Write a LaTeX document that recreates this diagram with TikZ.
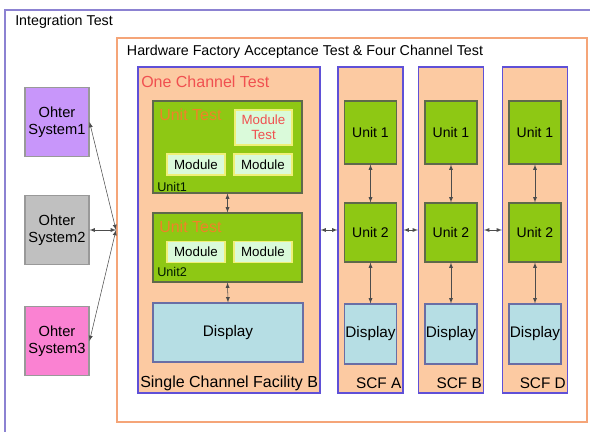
\documentclass[tikz,border=0pt]{standalone}
\usepackage{fontspec}
\setmainfont{Liberation Sans}
\usetikzlibrary{positioning}
\usetikzlibrary{arrows}

\definecolor{intblue}{RGB}{140,130,210}
\definecolor{orangeedge}{RGB}{245,165,120}
\definecolor{peach}{RGB}{252,202,162}
\definecolor{chanblue}{RGB}{95,80,215}
\definecolor{unitgreen}{RGB}{142,200,20}
\definecolor{unitedge}{RGB}{95,105,75}
\definecolor{modfill}{RGB}{218,250,218}
\definecolor{modedge}{RGB}{240,240,120}
\definecolor{dispfill}{RGB}{182,222,228}
\definecolor{dispedge}{RGB}{105,110,165}
\definecolor{sysone}{RGB}{200,150,250}
\definecolor{systwo}{RGB}{192,192,192}
\definecolor{systhree}{RGB}{250,130,210}
\definecolor{redtext}{RGB}{240,80,80}
\definecolor{unittext}{RGB}{240,130,40}

\begin{document}
\begin{tikzpicture}[x=0.75pt,y=-0.75pt]
\tikzset{
  label/.style={inner sep=0pt,font=\fontsize{10.7}{12}\selectfont},
  biglabel/.style={inner sep=0pt,font=\fontsize{12}{14}\selectfont},
  sysbox/.style={rectangle,draw=black!40,thick,text centered,align=center,font=\fontsize{11}{13}\selectfont,minimum width=48pt,minimum height=52pt,inner sep=0pt},
  facility/.style={rectangle,draw=chanblue,fill=peach,thick,minimum height=244.5pt,inner sep=0pt},
  unit/.style={rectangle,draw=unitedge,fill=unitgreen,thick,font=\fontsize{10.5}{12}\selectfont,inner sep=0pt},
  module/.style={rectangle,draw=modedge,fill=modfill,thick,font=\fontsize{10}{11}\selectfont,minimum width=43.5pt,minimum height=15.75pt,inner sep=0pt},
  display/.style={rectangle,draw=dispedge,fill=dispfill,thick,font=\fontsize{11.5}{13}\selectfont,inner sep=0pt},
  unitname/.style={anchor=west,inner sep=0pt,font=\fontsize{9.5}{10}\selectfont,text=black!75!green!40!black},
  arrow/.style={<->,>=latex,draw=black!70,thin},
}
\useasboundingbox (0,0) rectangle (590,432);
\clip (0,0) rectangle (590,432);
% outer frames
\draw[intblue,thick] (5,10) rectangle (640,480);
\node[label,anchor=west] (inttitle) at (15,22) {Integration Test};
\node[rectangle,draw=orangeedge,fill=white,thick,minimum width=352.5pt,minimum height=288pt,inner sep=0pt] (hwfat) at (352,230) {};
\node[label] (hwtitle) at (305,52) {Hardware Factory Acceptance Test \& Four Channel Test};
%
\node[sysbox,fill=sysone] (sys1) at (57,122) {Ohter\\System1};
\node[sysbox,fill=systwo] (sys2) at (57,230) {Ohter\\System2};
\node[sysbox,fill=systhree] (sys3) at (57,341) {Ohter\\System3};
\coordinate (hub) at (116,230);
\path[arrow] (sys1.east) -- (hub);
\path[arrow] (sys2.east) -- (hub);
\path[arrow] (sys3.east) -- (hub);
%
% single channel facility B
\node[facility,minimum width=136.5pt] (scfb1) at (229,230) {};
\node[biglabel,anchor=west,text=redtext] (onechan) at (141,82) {One Channel Test};
\node[biglabel,anchor=west] (scfbtitle) at (140,383) {Single Channel Facility B};
\node[unit,minimum width=111.75pt,minimum height=69pt] (unit1) at (227.5,147) {};
\node[unit,minimum width=111.75pt,minimum height=51.75pt] (unit2) at (227.5,247.5) {};
\node[biglabel,anchor=west,text=unittext] (ut1) at (159,115) {Unit Test};
\node[biglabel,anchor=west,text=unittext] (ut2) at (159,227) {Unit Test};
\node[module,minimum width=42.75pt,minimum height=26.25pt,align=center,text=redtext] (modtest) at (263.5,127.5) {Module\\Test};
\node[module] (mod11) at (196,164.5) {Module};
\node[module] (mod12) at (263,164.5) {Module};
\node[module] (mod21) at (196,252) {Module};
\node[module] (mod22) at (263,252) {Module};
\node[unitname] (u1lbl) at (157,187) {Unit1};
\node[unitname] (u2lbl) at (157,272) {Unit2};
\node[display,minimum width=112.5pt,minimum height=44.25pt] (disp) at (228,332.5) {Display};
\path[arrow] (unit1.south) -- (unit2.north);
\path[arrow] (unit2.south) -- (disp.north);
%
% four channel columns
\foreach \name/\cx/\lbl in {scfa/370.5/A, scfbb/451/B, scfd/535/D} {
  \node[facility,minimum width=48.75pt] (\name) at (\cx,230) {};
  \node[unit,minimum width=39pt,minimum height=47.25pt] (\name u1) at (\cx,132.5) {Unit 1};
  \node[unit,minimum width=39pt,minimum height=44.25pt] (\name u2) at (\cx,232.5) {Unit 2};
  \node[display,minimum width=39pt,minimum height=45pt] (\name d) at (\cx,334) {Display};
  \node[label,font=\fontsize{11.5}{13}\selectfont,anchor=east] (\name lbl) at ([xshift=-1.5pt]\name.east |- 0,383) {SCF \lbl};
  \path[arrow] (\name u1.south) -- (\name u2.north);
  \path[arrow] (\name u2.south) -- (\name d.north);
}
\path[arrow] (scfb1.east) -- (scfa.west);
\path[arrow] (scfa.east) -- (scfbb.west);
\path[arrow] (scfbb.east) -- (scfd.west);
\end{tikzpicture}
\end{document}
